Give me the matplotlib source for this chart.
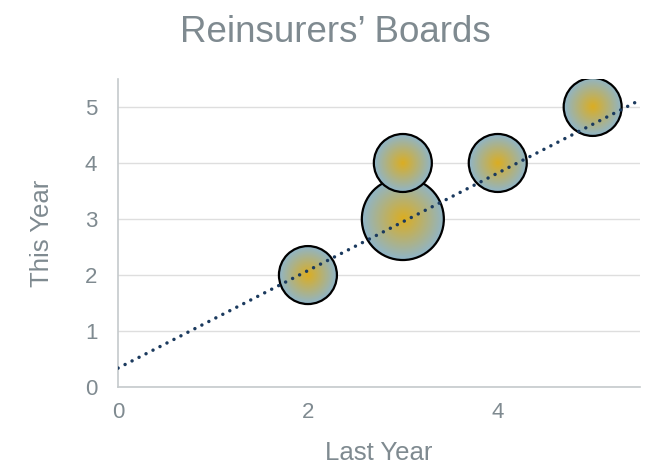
import numpy as np
import matplotlib
matplotlib.use("Agg")
import matplotlib.pyplot as plt
from matplotlib.patches import Ellipse

plt.rcParams['font.family'] = ['Liberation Sans', 'DejaVu Sans']

# -----------------------------
# Data
# -----------------------------
last_year = [3, 2, 3, 4, 5]
this_year = [3, 2, 4, 4, 5]
bubble_size = [2, 1, 1, 1, 1]

# linear trendline as shown in the chart
trend_slope = 0.87
trend_intercept = 0.34

x_ticks = [0, 2, 4]
y_ticks = [0, 1, 2, 3, 4, 5]

# -----------------------------
# Style
# -----------------------------
text_col = "#7F8A90"
grid_col = "#DEDEDE"
spine_col = "#C5CACC"
trend_col = "#1B3A5E"
center_col = np.array([0.86, 0.68, 0.13])
edge_col = np.array([0.56, 0.71, 0.79])
r_max_px = 41.0

W, H, dpi = 6.71, 4.67, 100
fig = plt.figure(figsize=(W, H), dpi=dpi)
ax = fig.add_axes([0.176, 0.171, 0.778, 0.660])

xmin, xmax, ymin, ymax = 0, 5.5, 0, 5.5
px_x = 0.778 * W * dpi / (xmax - xmin)
px_y = 0.660 * H * dpi / (ymax - ymin)

# radial gradient texture
n = 200
u = np.linspace(-1, 1, n)
uu, vv = np.meshgrid(u, u)
rr = np.clip(np.sqrt(uu ** 2 + vv ** 2), 0, 1)
img = center_col[None, None, :] * (1 - rr[..., None]) + edge_col[None, None, :] * rr[..., None]

order = np.argsort(bubble_size)[::-1]
for k, i in enumerate(order):
    x, y, s = last_year[i], this_year[i], bubble_size[i]
    r_px = r_max_px * np.sqrt(s / max(bubble_size))
    rx, ry = r_px / px_x, r_px / px_y
    z = 3 + k * 0.1
    im = ax.imshow(img, extent=[x - rx, x + rx, y - ry, y + ry], origin="lower",
                   aspect="auto", interpolation="bilinear", zorder=z)
    clip = Ellipse((x, y), 2 * rx, 2 * ry, transform=ax.transData, facecolor="none")
    ax.add_patch(clip)
    clip.set_visible(False)
    im.set_clip_path(clip)
    ax.add_patch(Ellipse((x, y), 2 * rx, 2 * ry, facecolor="none",
                         edgecolor="black", lw=1.6, zorder=z + 0.05))

# trendline
tx = np.array([xmin, xmax])
ax.plot(tx, trend_slope * tx + trend_intercept, color=trend_col, lw=2.5,
        linestyle=(0, (0.01, 2.25)), dash_capstyle="round", zorder=10)

ax.set_xlim(xmin, xmax)
ax.set_ylim(ymin, ymax)
ax.set_xticks(x_ticks)
ax.set_yticks(y_ticks)
ax.tick_params(length=0, labelsize=16, colors=text_col)
ax.tick_params(axis="y", pad=15)
ax.tick_params(axis="x", pad=11)
ax.yaxis.grid(True, color=grid_col, lw=1.0, zorder=0)
ax.set_axisbelow(True)
for side in ["top", "right"]:
    ax.spines[side].set_visible(False)
for side in ["left", "bottom"]:
    ax.spines[side].set_color(spine_col)
    ax.spines[side].set_linewidth(1.2)

ax.set_xlabel("Last Year", fontsize=18.5, color=text_col, labelpad=13)
ax.set_ylabel("This Year", fontsize=18.5, color=text_col, labelpad=22)
fig.suptitle("Reinsurers\u2019 Boards", fontsize=26.5, color=text_col, y=0.968)

fig.savefig("out.png", dpi=dpi)
